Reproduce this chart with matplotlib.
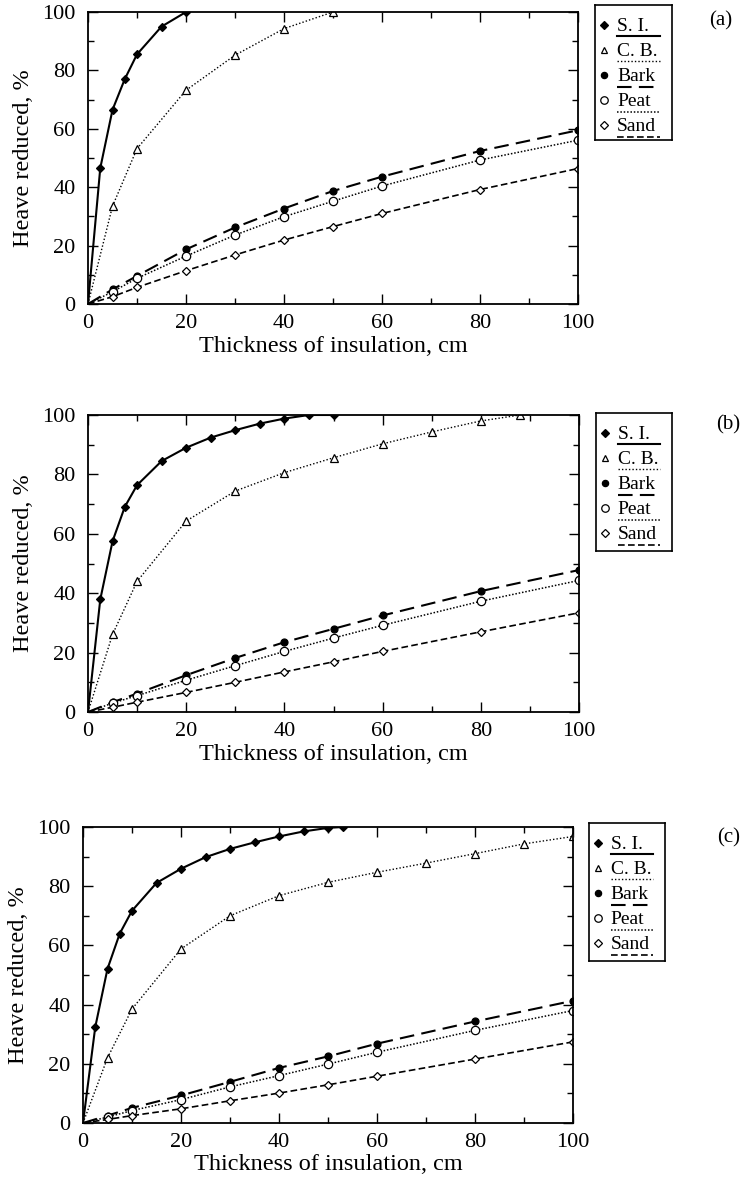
import numpy as np
import matplotlib.pyplot as plt
from matplotlib.lines import Line2D
from matplotlib.ticker import MultipleLocator

plt.rcParams['font.family'] = ['Liberation Serif', 'DejaVu Serif']

# Panel (a)
a_si_x = [0, 2.5, 5, 7.5, 10, 15, 20]
a_si_y = [0, 46.5, 66.5, 77, 85.5, 95, 100]
a_cb_x = [0, 5, 10, 20, 30, 40, 50]
a_cb_y = [0, 33.5, 53.2, 73.2, 85.2, 94.3, 100]
a_x = [0, 5, 10, 20, 30, 40, 50, 60, 80, 100]
a_bark = [0, 5, 9.6, 18.7, 26.2, 32.7, 38.7, 43.6, 52.4, 59.5]
a_peat = [0, 4.2, 8.8, 16.4, 23.6, 29.9, 35.2, 40.4, 49.3, 56.1]
a_sand = [0, 2.5, 5.7, 11.4, 16.8, 21.9, 26.5, 31, 39.2, 46.4]

# Panel (b)
b_si_x = [0, 2.5, 5, 7.5, 10, 15, 20, 25, 30, 35, 40, 45, 50]
b_si_y = [0, 37.9, 57.5, 69.1, 76.4, 84.5, 89, 92.4, 94.9, 97.1, 98.8, 100, 100]
b_cb_x = [0, 5, 10, 20, 30, 40, 50, 60, 70, 80, 88]
b_cb_y = [0, 26.1, 44, 64.3, 74.4, 80.6, 85.6, 90.3, 94.3, 98, 100]
b_x = [0, 5, 10, 20, 30, 40, 50, 60, 80, 100]
b_bark = [0, 3.3, 6.2, 12.4, 18.2, 23.5, 28, 32.5, 40.7, 47.8]
b_peat = [0, 3, 5.5, 10.7, 15.6, 20.4, 24.9, 29.2, 37.3, 44.3]
b_sand = [0, 1.6, 3.3, 6.6, 10, 13.5, 16.9, 20.4, 27, 33.4]

# Panel (c)
c_si_x = [0, 2.5, 5, 7.5, 10, 15, 20, 25, 30, 35, 40, 45, 50, 53]
c_si_y = [0, 32.4, 52.1, 64, 71.7, 81.1, 85.9, 89.8, 92.6, 94.8, 96.8, 98.5, 99.7, 100]
c_cb_x = [0, 5, 10, 20, 30, 40, 50, 60, 70, 80, 90, 100]
c_cb_y = [0, 22, 38.5, 58.8, 70, 76.8, 81.3, 84.7, 87.8, 91, 94.3, 96.8]
c_x = [0, 5, 10, 20, 30, 40, 50, 60, 80, 100]
c_bark = [0, 2.5, 5.1, 9.3, 13.9, 18.6, 22.5, 26.8, 34.3, 41.3]
c_peat = [0, 2, 4.2, 7.9, 12.2, 16, 19.9, 23.9, 31.3, 38]
c_sand = [0, 1.2, 2.5, 4.8, 7.5, 10.1, 12.9, 15.8, 21.6, 27.4]

labels = ['S. I.', 'C. B.', 'Bark', 'Peat', 'Sand']

# style per series: marker, fill, linestyle, linewidth
styles = [
    dict(marker='D', mfc='black', ls='-', lw=1.5, ms=4),
    dict(marker='^', mfc='white', ls=(0, (1, 1.5)), lw=1.0, ms=5.5),
    dict(marker='o', mfc='black', ls=(0, (7, 3.5)), lw=1.5, ms=5),
    dict(marker='o', mfc='white', ls=(0, (1, 1.2)), lw=1.1, ms=6),
    dict(marker='D', mfc='white', ls=(0, (4, 2)), lw=1.2, ms=4.5),
]

W, H = 743, 1184


def px_box(x0, y0, w, h):
    # pixel box (left, top, width, height) -> figure fraction rect
    return [x0 / W, 1 - (y0 + h) / H, w / W, h / H]


panels = [
    ('(a)', [(a_si_x, a_si_y), (a_cb_x, a_cb_y), (a_x, a_bark), (a_x, a_peat), (a_x, a_sand)],
     px_box(88, 12, 490, 292), (595, 5, 77, 135), (721, 21)),
    ('(b)', [(b_si_x, b_si_y), (b_cb_x, b_cb_y), (b_x, b_bark), (b_x, b_peat), (b_x, b_sand)],
     px_box(88, 415, 491, 297), (596, 413, 76, 138), (728, 425)),
    ('(c)', [(c_si_x, c_si_y), (c_cb_x, c_cb_y), (c_x, c_bark), (c_x, c_peat), (c_x, c_sand)],
     px_box(83, 827, 490, 296), (589, 823, 76, 138), (729, 838)),
]

fig = plt.figure(figsize=(W / 100, H / 100), dpi=100)

for tag, series, pos, legpx, tagxy in panels:
    ax = fig.add_axes(pos)
    for (xs, ys), st in zip(series, styles):
        ax.plot(xs, ys, color='black', ls=st['ls'], lw=st['lw'],
                marker=st['marker'], ms=st['ms'], mfc=st['mfc'], mec='black',
                mew=0.9, markevery=list(range(1, len(xs))))
    ax.set_xlim(0, 100)
    ax.set_ylim(0, 100)
    ax.xaxis.set_major_locator(MultipleLocator(20))
    ax.xaxis.set_minor_locator(MultipleLocator(10))
    ax.yaxis.set_major_locator(MultipleLocator(20))
    ax.yaxis.set_minor_locator(MultipleLocator(10))
    ax.tick_params(which='both', direction='in', top=True, right=True,
                   labelsize=16, width=1.0)
    ax.tick_params(axis='x', pad=7)
    ax.tick_params(axis='y', pad=9)
    ax.tick_params(which='major', length=7)
    ax.tick_params(which='minor', length=4)
    for sp in ax.spines.values():
        sp.set_linewidth(1.3)
    ax.set_xlabel('Thickness of insulation, cm', fontsize=17.5, labelpad=2)
    ax.set_ylabel('Heave reduced, %', fontsize=17.5, labelpad=6)

    # legend box drawn by hand: marker + label with line sample beneath
    lg = fig.add_axes(px_box(*legpx))
    lg.set_xlim(0, 1)
    lg.set_ylim(0, 1)
    lg.set_xticks([])
    lg.set_yticks([])
    for sp in lg.spines.values():
        sp.set_linewidth(1.2)
    h = legpx[3]
    for i, (lab, st) in enumerate(zip(labels, styles)):
        by = 1 - (26 + 25 * i) / h
        ly = 1 - (31 + 25.3 * i) / h
        my = by + 6 / h
        lg.plot([0.12], [my], marker=st['marker'], ms=st['ms'] * 0.9,
                mfc=st['mfc'], mec='black', mew=0.9, color='black')
        lg.text(0.285, by, lab, fontsize=14, va='baseline', ha='left')
        lg.add_line(Line2D([0.285, 0.84], [ly, ly], color='black',
                           ls=st['ls'], lw=st['lw']))

    fig.text(tagxy[0] / W, 1 - tagxy[1] / H, tag, fontsize=15,
             ha='center', va='center')

fig.savefig('out.png', dpi=100)
